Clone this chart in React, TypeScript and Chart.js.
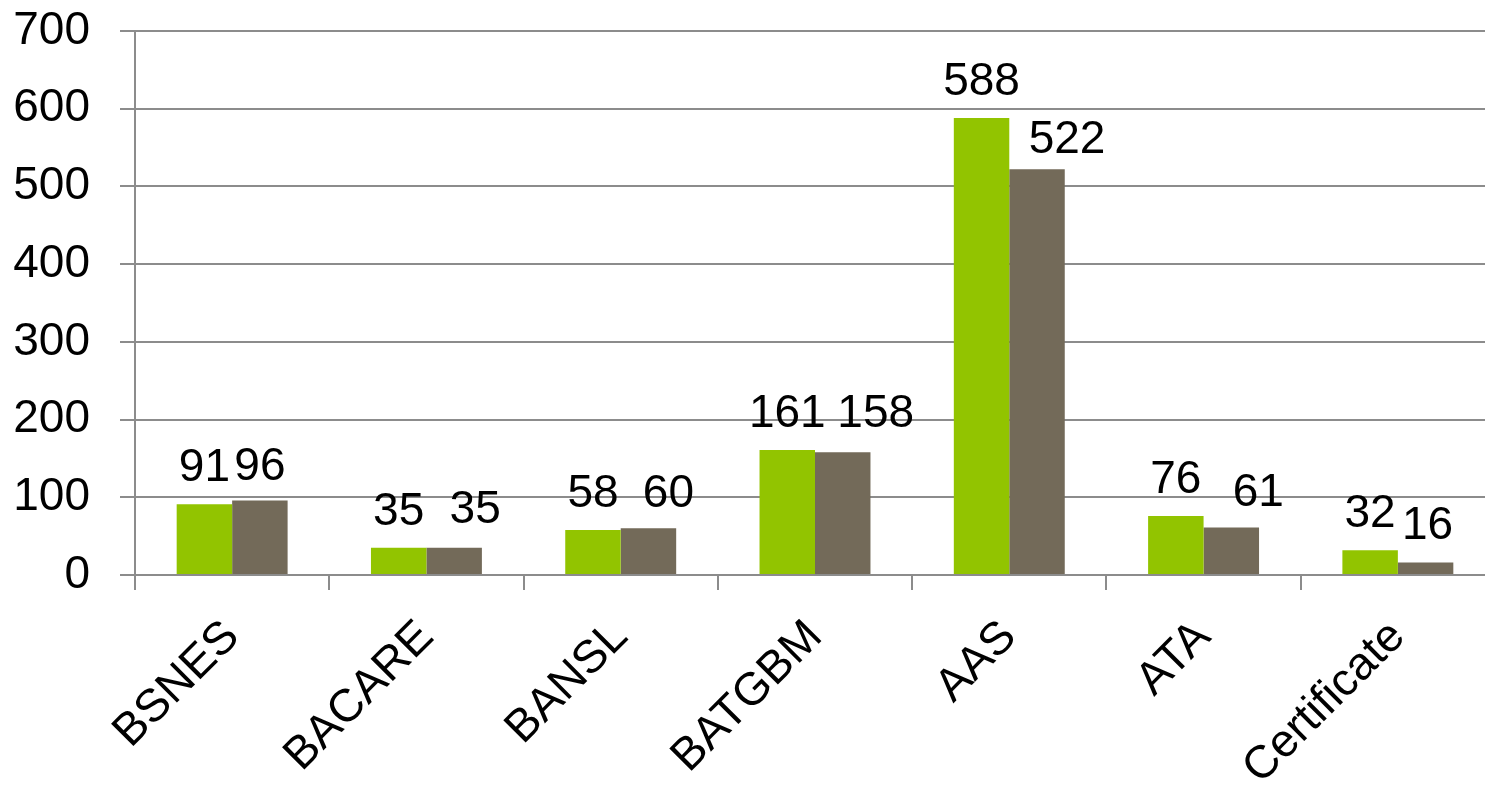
import React, { useEffect, useRef } from "react";
import { Chart, registerables } from "chart.js";

Chart.register(...registerables);

const categories = ["BSNES", "BACARE", "BANSL", "BATGBM", "AAS", "ATA", "Certificate"];
const seriesA = [91, 35, 58, 161, 588, 76, 32];
const seriesB = [96, 35, 60, 158, 522, 61, 16];
const yMin = 0;
const yMax = 700;
const yStep = 100;

// label placement tweaks (pixels) for the second series' value labels
const labelDxB = [0, 21, 20, 33, 30, 27, 2];
const labelDyB = [3, -2, 2, -2, 7, 1, -1];

const FONT = "'Liberation Sans', Arial, sans-serif";
const FONT_SIZE = 46;
const GREEN = "#92C400";
const BROWN = "#736A59";
const GRID = "#8C8C8C";
const CANVAS_W = 1495;
const CANVAS_H = 807;

const valueLabels = {
  id: "valueLabels",
  afterDatasetsDraw(chart: any) {
    const ctx = chart.ctx;
    ctx.save();
    ctx.font = `${FONT_SIZE}px ${FONT}`;
    ctx.fillStyle = "#000";
    ctx.textAlign = "center";
    ctx.textBaseline = "alphabetic";
    chart.data.datasets.forEach((ds: any, i: number) => {
      const meta = chart.getDatasetMeta(i);
      meta.data.forEach((el: any, j: number) => {
        const dx = i === 1 ? labelDxB[j] : 0;
        const dy = i === 1 ? labelDyB[j] : 0;
        ctx.fillText(String(ds.data[j]), el.x + dx, el.y - 23 + dy);
      });
    });
    ctx.restore();
  },
};

export default function App() {
  const ref = useRef<HTMLCanvasElement | null>(null);

  useEffect(() => {
    document.body.style.margin = "0";
    document.body.style.overflow = "hidden";
    const canvas = ref.current;
    if (!canvas) return;
    const chart = new Chart(canvas, {
      type: "bar",
      data: {
        labels: categories,
        datasets: [
          { label: "Series 1", data: seriesA, backgroundColor: GREEN, borderWidth: 0 },
          { label: "Series 2", data: seriesB, backgroundColor: BROWN, borderWidth: 0 },
        ],
      },
      options: {
        responsive: false,
        animation: false,
        devicePixelRatio: 1,
        layout: { padding: { top: 31, right: 0, left: 0, bottom: 0 } },
        plugins: {
          legend: { display: false },
          tooltip: { enabled: false },
        },
        datasets: {
          bar: { categoryPercentage: 0.571, barPercentage: 1.0 },
        },
        scales: {
          x: {
            offset: true,
            grid: {
              display: true,
              drawOnChartArea: false,
              drawTicks: true,
              tickLength: 15,
              color: GRID,
              lineWidth: 2,
            },
            border: { display: true, color: GRID, width: 2 },
            ticks: {
              minRotation: 45,
              maxRotation: 45,
              autoSkip: false,
              padding: 20,
              color: "#000",
              font: { family: FONT, size: FONT_SIZE },
            },
            afterFit: (s: any) => {
              s.height = CANVAS_H - 575;
              s.paddingLeft = 0;
              s.paddingRight = 0;
            },
          },
          y: {
            min: yMin,
            max: yMax,
            grid: {
              display: true,
              drawOnChartArea: true,
              drawTicks: true,
              tickLength: 15,
              color: GRID,
              lineWidth: 2,
            },
            border: { display: true, color: GRID, width: 2 },
            ticks: {
              stepSize: yStep,
              padding: 30,
              color: "#000",
              font: { family: FONT, size: FONT_SIZE },
            },
            afterFit: (s: any) => {
              s.width = 135;
              s.paddingTop = 0;
              s.paddingBottom = 0;
            },
          },
        },
      },
      plugins: [valueLabels],
    });
    return () => chart.destroy();
  }, []);

  return (
    <div style={{ width: 1485, height: 807, overflow: "hidden", position: "relative" }}>
      <canvas ref={ref} width={CANVAS_W} height={CANVAS_H} style={{ display: "block" }} />
    </div>
  );
}
